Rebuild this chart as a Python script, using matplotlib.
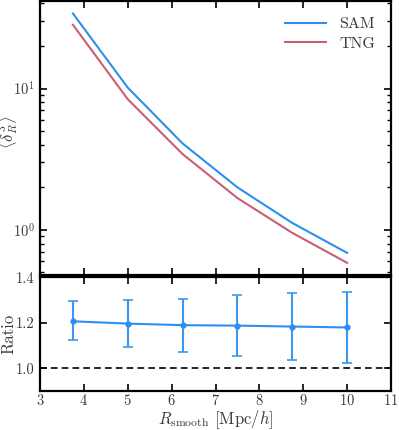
import matplotlib
matplotlib.use("Agg")
import matplotlib.pyplot as plt
import numpy as np

plt.rcParams['font.family'] = 'serif'
plt.rcParams['font.serif'] = ['cmr10']
plt.rcParams['mathtext.fontset'] = 'cm'
plt.rcParams['axes.formatter.use_mathtext'] = True

# Data
r_smooth = [3.75, 5.0, 6.25, 7.5, 8.75, 10.0]
sam = [34.0, 10.16, 4.09, 2.00, 1.12, 0.688]
tng = [28.3, 8.41, 3.44, 1.68, 0.953, 0.585]
ratio = [1.207, 1.197, 1.190, 1.188, 1.184, 1.180]
ratio_lo = [1.123, 1.093, 1.073, 1.054, 1.038, 1.022]
ratio_hi = [1.297, 1.300, 1.307, 1.322, 1.331, 1.337]
xticks = [3, 4, 5, 6, 7, 8, 9, 10, 11]
ratio_ticks = [1.0, 1.2, 1.4]

c_sam = '#2b8ff0'
c_tng = '#c9606f'
txt = '#3a3a3a'

W, H = 399, 430
fig = plt.figure(figsize=(W / 100, H / 100), dpi=100)
ax1 = fig.add_axes([40 / W, 1 - 275.3 / H, 351 / W, 274.3 / H])
ax2 = fig.add_axes([40 / W, 1 - 391.3 / H, 351 / W, 114 / H], sharex=ax1)

ax1.plot(r_smooth, sam, color=c_sam, lw=1.5, label='SAM')
ax1.plot(r_smooth, tng, color=c_tng, lw=1.5, label='TNG')
ax1.set_yscale('log')
ax1.set_ylabel(r'$\langle \delta_R^3 \rangle$', fontsize=12, color=txt)
ax1.yaxis.set_label_coords(-0.056, 0.52)
leg = ax1.legend(loc='upper right', frameon=False, fontsize=11.5, handlelength=2.6,
                 borderaxespad=0.6, labelspacing=0.35)
for t in leg.get_texts():
    t.set_color(txt)

r = np.array(ratio)
yerr = [r - np.array(ratio_lo), np.array(ratio_hi) - r]
ax2.errorbar(r_smooth, ratio, yerr=yerr, color=c_sam, lw=1.5, marker='o', ms=3.5,
             capsize=3.5, elinewidth=1.5, capthick=1.2, ecolor='#3a98f2')
ax2.axhline(1.0, color='black', ls='--', lw=1.2, dashes=(4, 2.5))
ax2.set_ylim(0.9, 1.4)
ax2.set_yticks(ratio_ticks)
ax2.set_yticklabels(['1.0', '1.2', '1.4'])
ax2.set_xlim(3, 11)
ax2.set_xticks(xticks)
ax2.set_ylabel('Ratio', fontsize=12, color=txt)
ax2.yaxis.set_label_coords(-0.068, 0.5)
ax2.set_xlabel(r'$R_{\rm smooth}$ [Mpc/$h$]', fontsize=12, color=txt)
ax2.xaxis.set_label_coords(0.5, -0.145)

for ax in (ax1, ax2):
    for s in ax.spines.values():
        s.set_linewidth(1.6)
    ax.tick_params(which='both', direction='in', top=True, right=True, labelsize=10.5,
                   labelcolor=txt)
    ax.tick_params(which='major', length=5, width=1.2)
    ax.tick_params(which='minor', length=3, width=1.0)
    ax.tick_params(axis='y', which='both', pad=4)
    ax.tick_params(axis='x', which='both', pad=1.5)
ax1.tick_params(labelbottom=False)

fig.savefig('out.png', dpi=100)
